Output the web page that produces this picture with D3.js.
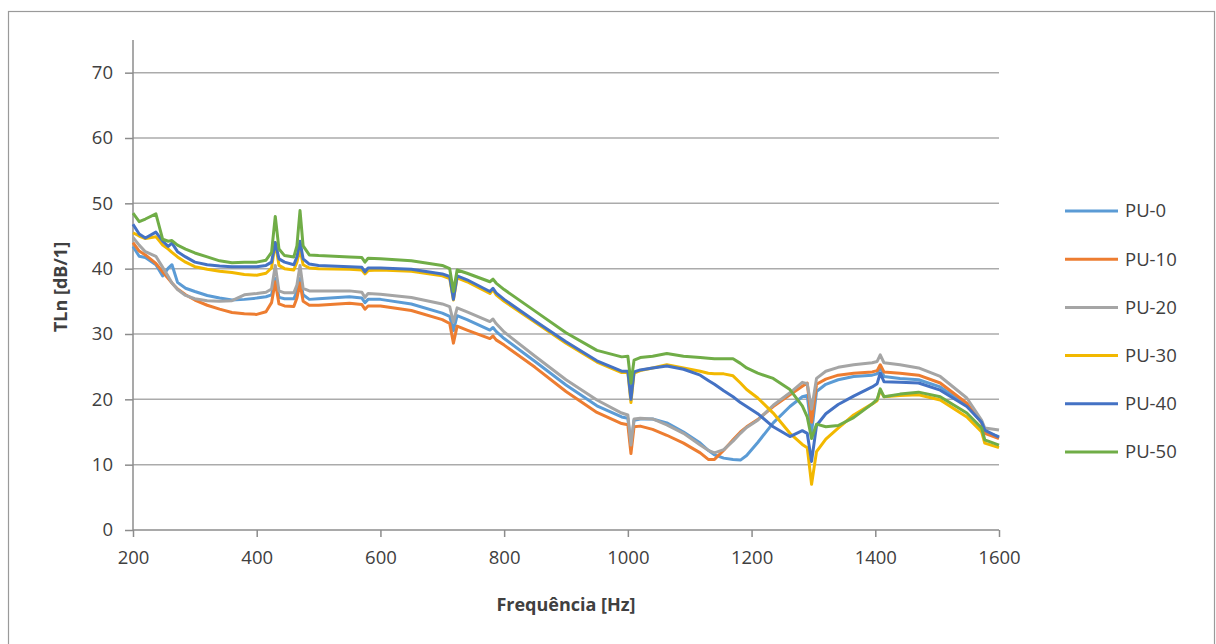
<!DOCTYPE html>
<html>
<head>
<meta charset="utf-8">
<script src="https://cdn.jsdelivr.net/npm/d3@7"></script>
<style>
  body { margin: 0; background: #fff; }
  text { font-family: "Open Sans", "Noto Sans", sans-serif; }
</style>
</head>
<body>
<div id="chart"></div>
<script>
// frequency points (Hz), shared by all series
var freqs = [200, 210, 220, 237, 248, 257, 263, 272, 285, 300,
             320, 340, 360, 380, 400, 415, 424, 430, 436, 445,
             460, 465, 470, 475, 485, 500, 550, 570, 575, 580,
             600, 650, 700, 712, 718, 724, 740, 777, 782, 787,
             800, 850, 900, 950, 990, 1000, 1005, 1010, 1020, 1040,
             1063, 1090, 1117, 1130, 1140, 1155, 1170, 1182, 1192, 1210,
             1235, 1262, 1282, 1290, 1297, 1305, 1320, 1340, 1365, 1395,
             1403, 1408, 1414, 1440, 1470, 1505, 1548, 1572, 1577, 1600];

var pu0 = [43.4, 41.9, 41.7, 40.6, 38.9, 40.1, 40.6, 37.9, 37.0, 36.5,
           35.9, 35.5, 35.2, 35.3, 35.5, 35.7, 36.0, 38.5, 35.6, 35.4,
           35.4, 36.5, 38.5, 36.0, 35.3, 35.4, 35.7, 35.5, 34.8, 35.3,
           35.3, 34.6, 33.2, 32.7, 30.5, 32.8, 32.2, 30.6, 31.0, 30.4,
           29.3, 25.8, 22.2, 19.0, 17.3, 17.1, 12.7, 16.8, 17.0, 17.0,
           16.4, 15.0, 13.3, 12.2, 11.5, 11.0, 10.8, 10.7, 11.4, 13.4,
           16.4, 18.9, 20.4, 20.6, 15.0, 21.2, 22.3, 23.0, 23.5, 23.7,
           23.9, 25.0, 23.5, 23.2, 23.0, 21.9, 19.1, 16.5, 15.0, 14.3];

var pu10 = [44.0, 42.7, 42.1, 40.8, 39.5, 38.5, 37.8, 36.9, 36.0, 35.2,
            34.4, 33.8, 33.3, 33.1, 33.0, 33.4, 34.8, 38.0, 34.6, 34.3,
            34.2, 35.5, 37.8, 35.0, 34.4, 34.4, 34.7, 34.5, 33.8, 34.3,
            34.3, 33.6, 32.2, 31.6, 28.6, 31.2, 30.6, 29.3, 29.7, 29.1,
            28.3, 24.9, 21.2, 18.0, 16.3, 16.1, 11.7, 15.8, 15.9, 15.4,
            14.5, 13.3, 11.8, 10.8, 10.8, 12.2, 13.8, 15.0, 15.8, 16.9,
            18.9, 20.7, 22.0, 22.5, 16.5, 22.3, 23.1, 23.7, 24.0, 24.2,
            24.4, 25.3, 24.2, 24.0, 23.7, 22.5, 19.4, 16.4, 14.8, 14.0];

var pu20 = [44.8, 43.6, 42.6, 41.9, 40.2, 38.8, 37.8, 36.8, 35.9, 35.4,
            35.1, 35.0, 35.1, 36.0, 36.2, 36.4, 36.9, 40.5, 36.6, 36.3,
            36.3, 37.5, 40.5, 37.0, 36.6, 36.6, 36.6, 36.4, 35.6, 36.2,
            36.1, 35.6, 34.6, 34.2, 31.8, 34.0, 33.4, 31.9, 32.3, 31.6,
            30.3, 26.6, 23.0, 19.9, 17.9, 17.6, 13.0, 17.0, 17.1, 17.0,
            16.1, 14.8, 13.0, 12.2, 11.8, 12.3, 13.6, 14.8, 15.7, 16.8,
            19.1, 21.0, 22.6, 22.4, 18.5, 23.2, 24.3, 24.9, 25.3, 25.6,
            25.8, 26.8, 25.6, 25.3, 24.8, 23.5, 20.2, 16.8, 15.6, 15.3];

var pu30 = [45.5, 45.0, 44.6, 44.9, 43.6, 43.0, 42.5, 41.8, 41.0, 40.3,
            39.9, 39.6, 39.4, 39.1, 39.0, 39.3, 40.1, 44.0, 40.5, 40.0,
            39.8, 41.0, 43.0, 40.6, 40.1, 40.0, 39.9, 39.8, 39.2, 39.7,
            39.8, 39.6, 38.9, 38.5, 35.2, 38.6, 38.0, 36.2, 36.8, 36.0,
            35.0, 31.8, 28.6, 25.7, 24.1, 24.1, 19.5, 24.0, 24.4, 24.8,
            25.3, 24.8, 24.3, 24.0, 23.9, 23.9, 23.6, 22.5, 21.5, 20.2,
            17.9, 14.8, 13.1, 12.6, 7.0, 12.0, 13.9, 15.6, 17.6, 19.3,
            19.8, 21.4, 20.4, 20.6, 20.7, 19.9, 17.3, 15.0, 13.3, 12.6];

var pu40 = [46.8, 45.3, 44.7, 45.6, 44.2, 43.4, 43.9, 42.6, 41.8, 41.0,
            40.6, 40.4, 40.3, 40.3, 40.3, 40.5, 41.0, 44.0, 41.5, 41.0,
            40.6, 41.8, 44.2, 41.5, 40.7, 40.5, 40.3, 40.2, 39.5, 40.1,
            40.1, 39.9, 39.2, 38.8, 35.3, 38.9, 38.3, 36.5, 37.0, 36.3,
            35.3, 32.0, 28.8, 25.9, 24.3, 24.3, 20.0, 24.2, 24.5, 24.8,
            25.1, 24.6, 23.7, 22.9, 22.3, 21.3, 20.4, 19.5, 18.9, 17.8,
            15.8, 14.3, 15.2, 14.8, 10.5, 16.0, 17.8, 19.2, 20.5, 21.9,
            22.4, 24.0, 22.7, 22.6, 22.5, 21.4, 18.9, 16.5, 15.3, 14.2];

var pu50 = [48.5, 47.2, 47.6, 48.4, 44.5, 44.2, 44.3, 43.6, 43.0, 42.4,
            41.8, 41.2, 40.9, 41.0, 41.0, 41.3, 42.5, 48.0, 43.0, 42.0,
            41.8, 43.5, 48.9, 43.5, 42.1, 42.0, 41.8, 41.7, 41.0, 41.6,
            41.5, 41.2, 40.5, 40.0, 36.5, 39.8, 39.3, 38.0, 38.4, 37.8,
            36.8, 33.5, 30.2, 27.5, 26.5, 26.6, 22.5, 26.0, 26.4, 26.6,
            27.0, 26.6, 26.4, 26.3, 26.2, 26.2, 26.2, 25.5, 24.8, 24.0,
            23.2, 21.5, 19.0, 17.3, 14.0, 16.2, 15.8, 16.0, 17.2, 19.3,
            20.0, 21.6, 20.4, 20.8, 21.1, 20.4, 17.9, 15.6, 13.8, 13.0];

var seriesNames = ["PU-0", "PU-10", "PU-20", "PU-30", "PU-40", "PU-50"];
var seriesValues = [pu0, pu10, pu20, pu30, pu40, pu50];
var seriesColors = ["#5B9BD5", "#ED7D31", "#A5A5A5", "#F2B800", "#4472C4", "#70AD47"];

var xTicks = [200, 400, 600, 800, 1000, 1200, 1400, 1600];
var yTicks = [0, 10, 20, 30, 40, 50, 60, 70];

var W = 1216, H = 644;
var margin = {top: 40, right: 217, bottom: 114, left: 133};

var svg = d3.select("#chart")
  .append("svg")
    .attr("width", W)
    .attr("height", H);

// outer frame
svg.append("rect")
  .attr("x", 8.5)
  .attr("y", 11.5)
  .attr("width", 1206)
  .attr("height", 660)
  .attr("fill", "none")
  .attr("stroke", "#9a9a9a")
  .attr("stroke-width", 1.2);

var x = d3.scaleLinear()
  .domain([200, 1600])
  .range([margin.left, W - margin.right]);

var y = d3.scaleLinear()
  .domain([0, 75])
  .range([H - margin.bottom, margin.top]);

// gridlines
svg.append("g")
  .selectAll("line")
  .data(yTicks.filter(function(d) { return d > 0; }))
  .enter()
  .append("line")
    .attr("x1", x(200))
    .attr("x2", x(1600))
    .attr("y1", function(d) { return y(d); })
    .attr("y2", function(d) { return y(d); })
    .attr("stroke", "#ababab")
    .attr("stroke-width", 1.5);

// X axis
var xAxis = svg.append("g")
  .attr("transform", "translate(0," + y(0) + ")")
  .call(d3.axisBottom(x).tickValues(xTicks).tickSize(7).tickPadding(14).tickFormat(d3.format("d")));

// Y axis
var yAxis = svg.append("g")
  .attr("transform", "translate(" + x(200) + ",0)")
  .call(d3.axisLeft(y).tickValues(yTicks).tickSize(8).tickPadding(12));

[xAxis, yAxis].forEach(function(ax) {
  ax.select(".domain").attr("stroke", "#8c8c8c").attr("stroke-width", 1.5);
  ax.selectAll(".tick line").attr("stroke", "#8c8c8c").attr("stroke-width", 1.5);
  ax.selectAll(".tick text")
    .attr("fill", "#404040")
    .style("font-size", "18.5px")
    .style("font-family", "'Open Sans', sans-serif");
});
// axis lines without outer ticks
yAxis.select(".domain").attr("d", "M0," + y(75) + "V" + y(0));
xAxis.select(".domain").attr("d", "M" + x(200) + ",0H" + x(1600));

// lines
var line = d3.line()
  .x(function(d, i) { return x(freqs[i]); })
  .y(function(d) { return y(d); });

seriesValues.forEach(function(vals, i) {
  svg.append("path")
    .datum(vals)
    .attr("d", line)
    .attr("fill", "none")
    .attr("stroke", seriesColors[i])
    .attr("stroke-width", 3)
    .attr("stroke-linejoin", "round");
});

// axis titles
svg.append("text")
  .attr("x", (x(200) + x(1600)) / 2)
  .attr("y", 611)
  .attr("text-anchor", "middle")
  .style("font-size", "18px")
  .style("font-weight", "bold")
  .attr("fill", "#404040")
  .text("Frequência [Hz]");

svg.append("text")
  .attr("transform", "translate(67," + 287 + ") rotate(-90)")
  .attr("text-anchor", "middle")
  .style("font-size", "18px")
  .style("font-weight", "bold")
  .attr("fill", "#404040")
  .text("TLn [dB/1]");

// legend
var legend = svg.append("g")
  .attr("transform", "translate(1065, 211)");

seriesNames.forEach(function(name, i) {
  legend.append("line")
    .attr("x1", 0)
    .attr("x2", 53)
    .attr("y1", i * 48.2)
    .attr("y2", i * 48.2)
    .attr("stroke", seriesColors[i])
    .attr("stroke-width", 3);

  legend.append("text")
    .attr("x", 60)
    .attr("y", i * 48.2)
    .attr("dy", "0.35em")
    .attr("fill", "#404040")
    .style("font-size", "18.5px")
    .text(name);
});
</script>
</body>
</html>
